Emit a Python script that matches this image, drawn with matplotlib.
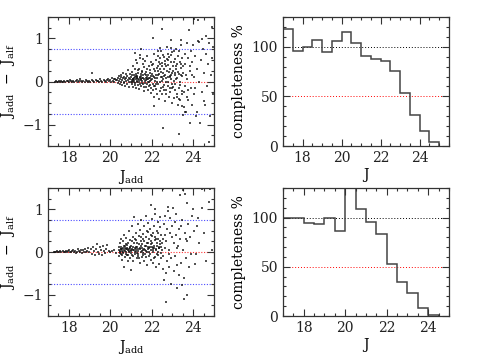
"""Injected vs recovered J magnitudes and completeness, two fields."""

import numpy as np
import matplotlib.pyplot as plt
from matplotlib.ticker import MultipleLocator

# ---- top row: J_add - J_alf vs J_add ----
top_pts = [
    (17.32, 0.00), (17.38, 0.01), (17.42, -0.01), (17.47, 0.00), (17.52, 0.01), (17.58, 0.00),
    (17.63, 0.02), (17.68, 0.00), (17.73, -0.01), (17.78, 0.01), (17.84, 0.00), (17.90, 0.02),
    (17.95, 0.01), (18.00, 0.00), (18.05, 0.03), (18.10, 0.01), (18.16, 0.00), (18.22, 0.02),
    (18.27, -0.01), (18.33, 0.01), (18.38, 0.03), (18.44, 0.00), (18.50, 0.02), (18.55, 0.05),
    (18.60, 0.01), (18.66, -0.01), (18.71, 0.02), (18.77, 0.00), (18.82, 0.03), (18.88, 0.01),
    (18.93, -0.02), (18.98, 0.02), (19.04, 0.00), (19.10, 0.20), (19.12, 0.03), (19.18, 0.01),
    (19.24, -0.02), (19.30, 0.04), (19.35, 0.01), (19.40, 0.02), (19.46, -0.01), (19.52, 0.05),
    (19.57, 0.02), (19.62, 0.00), (19.68, 0.04), (19.73, 0.01), (19.78, -0.02), (19.84, 0.03),
    (19.90, 0.06), (19.95, 0.01), (20.00, 0.04), (20.04, -0.02), (20.08, 0.08), (20.12, 0.02),
    (20.16, 0.05), (20.20, -0.01), (20.24, 0.06), (20.28, 0.03),
    (20.32, 0.04), (20.35, -0.03), (20.38, 0.08), (20.40, 0.01), (20.42, 0.12), (20.45, -0.05),
    (20.47, 0.05), (20.50, 0.10), (20.52, -0.02), (20.54, 0.15), (20.56, 0.03), (20.58, -0.08),
    (20.60, 0.07), (20.62, 0.20), (20.64, 0.00), (20.66, -0.04), (20.68, 0.11), (20.70, 0.05),
    (20.72, -0.10), (20.74, 0.17), (20.76, 0.02), (20.78, 0.08), (20.80, -0.06), (20.82, 0.13),
    (20.84, 0.03), (20.86, 0.26), (20.88, -0.02), (20.90, 0.09), (20.92, -0.12), (20.94, 0.05),
    (20.96, 0.18), (20.98, 0.00),
    (21.02, 0.10), (21.04, -0.05), (21.06, 0.22), (21.08, 0.02), (21.10, 0.35), (21.12, -0.12),
    (21.14, 0.08), (21.16, 0.15), (21.18, -0.03), (21.20, 0.28), (21.22, 0.05), (21.24, -0.15),
    (21.26, 0.12), (21.28, 0.42), (21.30, 0.00), (21.32, 0.20), (21.34, -0.08), (21.36, 0.06),
    (21.38, 0.30), (21.40, -0.18), (21.42, 0.10), (21.44, 0.55), (21.46, 0.03), (21.48, 0.18),
    (21.50, -0.10), (21.52, 0.25), (21.54, 0.07), (21.56, 0.40), (21.58, -0.05), (21.60, 0.14),
    (21.62, -0.22), (21.64, 0.33), (21.66, 0.02), (21.68, 0.48), (21.70, 0.09), (21.72, -0.12),
    (21.74, 0.22), (21.76, 0.05), (21.78, 0.60), (21.80, -0.02), (21.82, 0.16), (21.84, -0.20),
    (21.86, 0.36), (21.88, 0.08), (21.90, 0.27), (21.92, -0.08), (21.94, 0.12), (21.96, 0.45),
    (21.98, -0.15),
    (21.03, 0.03), (21.07, 0.14), (21.11, 0.06), (21.15, -0.02), (21.19, 0.11), (21.23, 0.18),
    (21.27, 0.02), (21.31, 0.09), (21.35, 0.26), (21.39, 0.04), (21.43, -0.06), (21.47, 0.13),
    (21.51, 0.01), (21.55, 0.21), (21.59, 0.07), (21.63, -0.12), (21.67, 0.17), (21.71, 0.03),
    (21.75, -0.06), (21.79, 0.30), (21.83, 0.06), (21.87, -0.10), (21.91, 0.20), (21.95, 0.04),
    (21.99, 0.38), (21.05, 0.00), (21.13, 0.04), (21.21, -0.08), (21.29, 0.12), (21.37, 0.00),
    (21.45, 0.08), (21.53, -0.04), (21.61, 0.05), (21.69, -0.03), (21.77, 0.11), (21.85, 0.00),
    (21.93, 0.07), (21.97, -0.26), (21.57, 0.52), (21.41, 0.62), (21.25, 0.50),
    (22.02, 0.05), (22.04, -0.20), (22.06, 0.40), (22.08, 0.12), (22.10, -0.35), (22.12, 0.65),
    (22.14, 0.02), (22.16, 0.25), (22.18, -0.10), (22.20, 0.50), (22.22, 0.15), (22.24, -0.28),
    (22.26, 0.08), (22.28, 0.35), (22.30, -0.05), (22.32, 0.72), (22.34, 0.18), (22.36, -0.40),
    (22.38, 0.28), (22.40, 0.00), (22.42, 0.55), (22.44, -0.15), (22.46, 0.10), (22.48, 0.42),
    (22.50, -0.30), (22.52, 0.20), (22.54, 0.05), (22.56, 0.62), (22.58, -0.08), (22.60, 0.30),
    (22.62, -0.45), (22.64, 0.15), (22.66, 0.48), (22.68, -0.20), (22.70, 0.08), (22.72, 0.80),
    (22.74, 0.25), (22.76, -0.10), (22.78, 0.38), (22.80, 0.00), (22.82, -0.35), (22.84, 0.58),
    (22.86, 0.12), (22.88, 0.30), (22.90, -0.25), (22.92, 0.45), (22.94, 0.05), (22.96, -0.50),
    (22.98, 0.20), (23.00, 0.68), (23.02, -0.12), (23.04, 0.35), (23.06, 0.02), (23.08, -0.38),
    (23.10, 0.52), (23.12, 0.15), (23.14, -0.05), (23.16, 0.75), (23.18, 0.28), (23.20, -0.28),
    (23.22, 0.40), (23.24, 0.08), (23.26, -0.55), (23.28, 0.60), (23.30, 0.18), (23.32, -0.15),
    (23.34, 0.45), (23.36, 0.00), (23.38, -0.42), (23.40, 0.32), (23.42, 0.85), (23.44, -0.22),
    (23.46, 0.12), (23.48, 0.55),
    (22.03, 0.18), (22.07, -0.05), (22.11, 0.28), (22.15, 0.08), (22.19, -0.18), (22.23, 0.32),
    (22.27, 0.00), (22.31, 0.15), (22.35, 0.45), (22.39, -0.22), (22.43, 0.22), (22.47, 0.02),
    (22.51, 0.35), (22.55, -0.12), (22.59, 0.12), (22.63, 0.40), (22.67, 0.00), (22.71, -0.30),
    (22.75, 0.52), (22.79, 0.10), (22.83, 0.22), (22.87, -0.15), (22.91, 0.62), (22.95, 0.15),
    (22.99, -0.05), (23.03, 0.25), (23.07, 0.45), (23.11, -0.20), (23.15, 0.05), (23.19, 0.35),
    (23.23, -0.35), (23.27, 0.22), (23.31, 0.70), (23.35, -0.08), (23.39, 0.15), (23.43, 0.40),
    (23.47, -0.30), (22.13, -0.10), (22.29, 0.60), (22.45, 0.70), (22.61, 0.58), (22.77, 0.65),
    (22.93, 0.78), (23.09, 0.72),
    (23.52, 0.20), (23.55, -0.60), (23.58, 0.65), (23.60, -0.10), (23.62, 0.40), (23.65, -0.70),
    (23.68, 0.90), (23.70, 0.05), (23.72, -0.35), (23.75, 0.55), (23.77, -0.42), (23.80, 1.20),
    (23.82, 0.25), (23.85, -0.96), (23.88, 0.70), (23.90, -0.15), (23.93, 0.45), (23.96, -0.55),
    (24.00, 0.85), (24.02, 0.10), (24.05, -0.30), (24.06, 1.46), (24.10, 0.60), (24.13, -0.80),
    (24.16, 0.30), (24.20, -0.70), (24.22, 0.95), (24.25, 1.42), (24.28, 0.00), (24.30, 0.93),
    (24.33, -0.96), (24.36, 0.50), (24.40, 0.99), (24.42, -0.25), (24.45, 0.75), (24.50, 0.20),
    (24.52, -0.45), (24.57, -0.54), (24.60, 0.65), (24.63, 1.05), (24.66, -0.10), (24.70, 0.40),
    (24.74, -1.40), (24.78, 0.90), (24.80, 1.50), (24.82, -0.80), (24.85, 0.15), (24.88, 0.55),
    (24.90, 1.26), (24.93, -0.30), (24.96, 0.80), (23.54, -0.25), (23.63, 0.15), (23.74, -0.20),
    (23.83, 0.35), (23.94, 0.15), (24.08, -0.15), (23.47, -0.58), (23.50, -0.78), (23.60, -0.70),
    (23.30, -1.22), (22.55, -1.09), (22.09, -0.56), (23.40, 0.96), (22.95, 0.96),
    (22.51, 1.22), (22.06, 1.00), (21.50, 0.75), (22.40, 0.79), (21.20, 0.67),
    (21.10, 0.05), (21.30, 0.10), (21.50, 0.06), (21.70, 0.15), (21.90, 0.02), (22.10, 0.10),
    (22.30, 0.25), (22.50, 0.10), (22.70, 0.35), (22.90, 0.10), (23.10, 0.20), (23.30, -0.40),
    (23.50, 0.35), (22.20, -0.05), (22.60, -0.20), (23.00, -0.15), (22.40, 0.40), (22.80, 0.50),
]

# ---- bottom row ----
bot_pts = [
    (17.30, 0.00), (17.35, 0.01), (17.40, -0.01), (17.45, 0.02), (17.50, 0.00), (17.55, 0.01),
    (17.60, 0.03), (17.65, 0.00), (17.70, 0.02), (17.75, -0.01), (17.80, 0.01), (17.85, 0.03),
    (17.90, 0.00), (17.95, 0.02), (18.00, 0.04), (18.05, 0.01), (18.10, -0.01), (18.15, 0.02),
    (18.20, 0.05), (18.25, 0.00), (18.30, 0.03), (18.35, -0.02), (18.40, 0.01), (18.45, 0.06),
    (18.50, 0.02), (18.55, 0.00), (18.60, 0.04), (18.65, -0.03), (18.70, 0.05), (18.75, 0.01),
    (18.80, 0.08), (18.85, -0.01), (18.90, 0.03), (18.95, 0.10), (19.00, 0.00), (19.05, 0.06),
    (19.10, -0.04), (19.15, 0.12), (19.20, 0.02), (19.25, -0.06), (19.30, 0.08), (19.35, 0.18),
    (19.40, 0.00), (19.45, -0.05), (19.50, 0.12), (19.55, 0.04), (19.60, -0.08), (19.65, 0.15),
    (19.70, 0.02), (19.75, -0.03), (19.80, 0.06), (19.85, 0.16), (19.92, 0.03), (20.00, 0.00),
    (20.10, 0.02), (20.20, 0.04), (20.30, -0.02),
    (20.42, 0.05), (20.44, -0.10), (20.46, 0.20), (20.48, 0.00), (20.50, 0.30), (20.52, -0.05),
    (20.54, 0.12), (20.56, -0.18), (20.58, 0.08), (20.60, 0.25), (20.62, -0.02), (20.64, -0.34),
    (20.66, 0.15), (20.68, 0.40), (20.70, 0.03), (20.72, -0.12), (20.74, 0.18), (20.76, 0.06),
    (20.78, 0.32), (20.80, -0.06), (20.82, 0.10), (20.84, -0.20), (20.86, 0.22), (20.88, 0.01),
    (20.90, 0.50), (20.92, 0.08), (20.94, -0.15), (20.96, 0.28), (20.98, 0.04), (21.00, -0.41),
    (21.02, 0.15), (21.04, 0.60), (21.06, -0.08), (21.08, 0.35), (21.10, 0.05), (21.12, -0.22),
    (21.14, 0.20), (21.16, 0.83), (21.18, 0.10), (21.20, -0.05), (21.22, 0.45), (21.24, 0.02),
    (21.26, 0.28), (21.28, -0.15), (21.30, 0.12), (21.32, 0.65), (21.34, 0.06), (21.36, -0.10),
    (21.38, 0.38), (21.40, 0.18), (21.42, -0.25), (21.44, 0.52), (21.46, 0.00), (21.48, 0.25),
    (21.50, 0.75), (21.52, 0.10), (21.54, -0.12), (21.56, 0.42), (21.58, 0.05), (21.60, 0.30),
    (21.62, -0.20), (21.64, 0.60), (21.66, 0.15), (21.68, -0.05), (21.70, 0.35), (21.72, 0.85),
    (21.74, 0.02), (21.76, 0.22), (21.78, -0.30), (21.80, 0.48), (21.82, 0.08), (21.84, 0.68),
    (21.86, -0.10), (21.88, 0.30), (21.90, 0.12), (21.92, 0.55), (21.94, -0.18), (21.96, 0.40),
    (21.98, 0.05), (22.00, 0.78), (22.02, 0.20), (22.04, -0.25), (22.06, 0.45), (22.08, 0.00),
    (22.10, 0.62), (22.12, 0.15), (22.14, -0.12), (22.16, 0.35), (22.18, 0.90), (22.20, 0.05),
    (22.22, -0.35), (22.24, 0.50), (22.26, 0.22), (22.28, 0.70), (22.30, -0.08), (22.32, 0.30),
    (22.34, 0.10), (22.36, -0.28), (22.38, 0.58), (22.40, 0.18), (22.42, 0.82), (22.44, -0.15),
    (22.46, 0.40), (22.48, 0.05),
    (20.43, 0.12), (20.47, -0.03), (20.51, 0.08), (20.55, 0.02), (20.59, -0.08), (20.63, 0.10),
    (20.67, 0.04), (20.71, 0.14), (20.75, -0.04), (20.79, 0.07), (20.83, 0.16), (20.87, -0.08),
    (20.91, 0.03), (20.95, 0.12), (20.99, -0.02), (21.03, 0.08), (21.07, 0.25), (21.11, -0.10),
    (21.15, 0.05), (21.19, 0.30), (21.23, 0.12), (21.27, -0.02), (21.31, 0.20), (21.35, 0.02),
    (21.39, -0.15), (21.43, 0.10), (21.47, 0.35), (21.51, 0.02), (21.55, 0.18), (21.59, -0.08),
    (21.63, 0.25), (21.67, 0.05), (21.71, 0.15), (21.75, 0.50), (21.79, 0.00), (21.83, 0.20),
    (21.87, 0.10), (21.91, -0.05), (21.95, 0.25), (21.99, 0.12), (22.03, 0.38), (22.07, 0.10),
    (22.11, -0.15), (22.15, 0.28), (22.19, 0.08), (22.23, 0.15), (22.27, -0.05), (22.31, 0.45),
    (22.35, 0.12), (22.39, 0.25), (22.43, -0.02), (22.47, 0.20),
    (20.45, 0.02), (20.53, 0.06), (20.61, 0.01), (20.69, 0.09), (20.77, 0.00), (20.85, 0.05),
    (20.93, 0.10), (21.01, 0.02), (21.09, 0.12), (21.17, 0.00), (21.25, 0.08), (21.33, -0.05),
    (21.41, 0.06), (21.49, 0.15), (21.57, -0.02), (21.65, 0.08), (21.73, -0.12), (21.81, 0.12),
    (21.89, 0.00), (21.97, 0.18), (22.05, 0.05), (22.13, 0.10), (22.21, 0.30), (22.29, 0.00),
    (22.37, 0.10), (22.45, 0.12), (21.94, 1.10), (22.14, 1.00),
    (22.52, 0.30), (22.55, 1.47), (22.56, -0.40), (22.58, 0.65), (22.60, -0.66), (22.62, 0.10),
    (22.64, 0.85), (22.67, -1.18), (22.68, 0.25), (22.70, -0.50), (22.72, 0.55), (22.75, -0.20),
    (22.78, 0.95), (22.80, 1.06), (22.82, 0.05), (22.85, -0.35), (22.88, 0.45), (22.90, 0.80),
    (22.93, -0.15), (22.95, -0.75), (22.98, 0.60), (23.03, 1.02), (23.05, 0.20), (23.08, -0.45),
    (23.10, 0.70), (23.12, -0.10), (23.15, 0.40), (23.18, 0.88), (23.20, -0.30), (23.24, -0.84),
    (23.26, 0.15), (23.30, 0.55), (23.33, -0.55), (23.36, 1.33), (23.38, 0.30), (23.42, -0.25),
    (23.44, -0.77), (23.46, 0.75), (23.50, 1.45), (23.52, 0.05), (23.55, -0.62), (23.57, -1.11),
    (23.60, 1.37), (23.62, 0.45), (23.65, -0.15), (23.68, 1.16), (23.68, -1.00), (23.72, 0.25),
    (23.75, 0.65), (23.80, -0.34), (23.85, 0.35), (23.90, -0.05), (23.95, 0.85), (24.00, 1.00),
    (24.05, 0.50), (24.10, -0.27), (24.12, -0.05), (24.20, 0.60), (24.24, 0.79), (24.30, 0.20),
    (24.40, 1.04), (24.40, 1.48), (24.50, 0.45), (24.60, -0.20), (24.74, 1.18), (24.80, 1.47),
    (24.90, 0.05), (22.54, -0.10), (22.66, 0.40), (22.84, -0.05), (23.00, 0.35), (23.22, 0.10),
    (23.40, 0.60), (23.64, 0.30),
]

# ---- completeness histograms (0.5 mag bins starting at J=17) ----
top_edges = np.arange(17.0, 25.01, 0.5)
top_comp = [117.6, 95.6, 100, 106.8, 95, 106, 115, 103.7, 90.5, 88, 86, 76, 53.4, 31.4, 15.2, 3.7]
bot_edges = np.arange(17.0, 24.51, 0.5)
bot_comp = [100, 100, 94.3, 93, 100, 86.5, 160, 109, 95.6, 83, 52.5, 34.3, 23.2, 8, 1]

plt.rcParams['font.family'] = 'DejaVu Serif'
plt.rcParams['font.size'] = 10
plt.rcParams['mathtext.fontset'] = 'dejavuserif'

fig = plt.figure(figsize=(4.78, 3.57), dpi=100)

W = 0.3473
ax_tl = fig.add_axes([0.1004, 0.591, W, 0.3614])
ax_tr = fig.add_axes([0.592, 0.591, W, 0.3614])
ax_bl = fig.add_axes([0.1004, 0.1148, W, 0.3586])
ax_br = fig.add_axes([0.592, 0.1148, W, 0.3586])

frame = '#333333'


def style(ax, xmaj, xmin, ymaj, ymin):
    ax.xaxis.set_major_locator(MultipleLocator(xmaj))
    ax.xaxis.set_minor_locator(MultipleLocator(xmin))
    ax.yaxis.set_major_locator(MultipleLocator(ymaj))
    ax.yaxis.set_minor_locator(MultipleLocator(ymin))
    ax.tick_params(which='both', direction='in', top=True, right=True,
                   color=frame, width=0.8, labelcolor='#222222')
    ax.tick_params(which='major', length=5)
    ax.tick_params(which='minor', length=2.5)
    for s in ax.spines.values():
        s.set_color(frame)
        s.set_linewidth(0.9)


for ax, pts in [(ax_tl, top_pts), (ax_bl, bot_pts)]:
    arr = np.array(pts)
    ax.axhline(0, color='red', lw=0.8, ls=(0, (1, 1.5)), alpha=0.8, zorder=1)
    ax.axhline(0.75, color='blue', lw=0.8, ls=(0, (1, 1.5)), alpha=0.7, zorder=1)
    ax.axhline(-0.75, color='blue', lw=0.8, ls=(0, (1, 1.5)), alpha=0.7, zorder=1)
    ax.scatter(arr[:, 0], arr[:, 1], s=4.5, marker='s', color='#111111',
               alpha=0.72, linewidths=0, zorder=2)
    ax.set_xlim(17, 25)
    ax.set_ylim(-1.5, 1.5)
    style(ax, 2, 0.5, 1, 0.25)
    ax.set_xlabel(r'J$_{\rm add}$', labelpad=2)
    ax.set_ylabel(r'J$_{\rm add}$  $-$  J$_{\rm alf}$', labelpad=4)

for ax, edges, comp, xmax in [(ax_tr, top_edges, top_comp, 25.5),
                              (ax_br, bot_edges, bot_comp, 25)]:
    ax.axhline(100, color='black', lw=0.7, ls=(0, (1, 2)), zorder=1)
    ax.axhline(50, color='red', lw=0.7, ls=(0, (1, 2)), zorder=1)
    ax.stairs(comp, edges, color='#444444', lw=1.1, baseline=0)
    ax.set_xlim(17, xmax)
    ax.set_ylim(0, 130)
    style(ax, 2, 0.5, 50, 10)
    ax.set_xlabel('J', labelpad=2)
    ax.set_ylabel('completeness %', labelpad=4)

fig.savefig('out.png', dpi=100)
